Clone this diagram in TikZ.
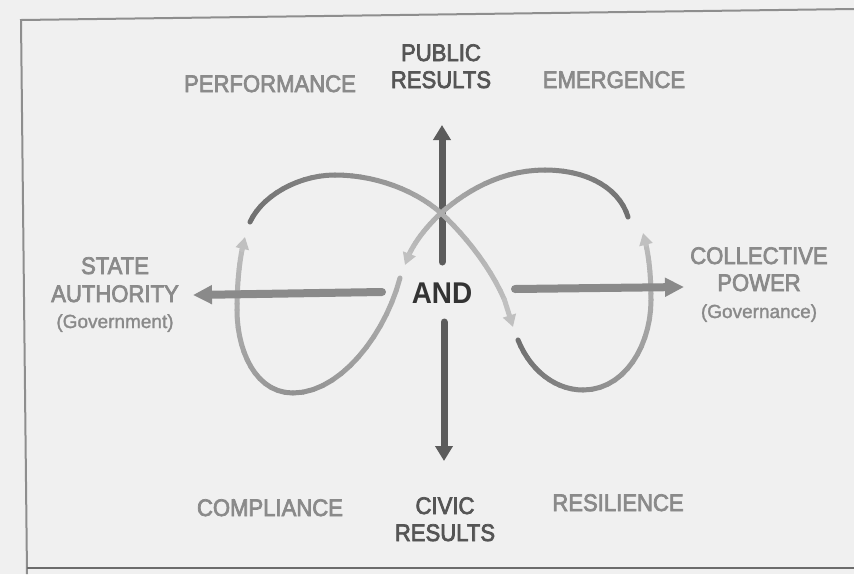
\documentclass[tikz,border=0pt]{standalone}
\usepackage{fontspec}
\usetikzlibrary{arrows.meta}
\setmainfont{Liberation Sans}
\newfontfamily\capsfont{Liberation Sans}[FakeStretch=0.92,FakeBold=3]
\newfontfamily\andfont{Liberation Sans}[FakeStretch=0.93]
\newfontfamily\subfont{Liberation Sans}[FakeBold=1.5]

\definecolor{paper}{HTML}{F0F0F0}
\definecolor{framegray}{HTML}{8E8E8E}
\definecolor{framedark}{HTML}{6C6C6C}
\definecolor{axisdark}{HTML}{5C5C5C}
\definecolor{axismid}{HTML}{8A8A8A}
\definecolor{loopdark}{HTML}{6E6E6E}
\definecolor{looplight}{HTML}{D2D2D2}
\definecolor{labelgray}{HTML}{8A8A8A}
\definecolor{keygray}{HTML}{555555}
\definecolor{andgray}{HTML}{333333}

\tikzset{
  loopstroke/.style={line width=5pt, line cap=round},
  axisv/.style={line width=7pt, draw=axisdark, line cap=round,
    -{Triangle[width=17pt,length=15pt]}},
  axish/.style={line width=8pt, draw=axismid, line cap=round,
    -{Triangle[width=18pt,length=19pt]}},
  sidelabel/.style={font=\capsfont\fontsize{24}{27}\selectfont, text=labelgray,
    align=center, anchor=base, inner sep=0pt},
  keylabel/.style={font=\capsfont\fontsize{24}{27}\selectfont, text=keygray,
    align=center, anchor=base, inner sep=0pt},
  sublabel/.style={font=\subfont\fontsize{19}{23}\selectfont, text=labelgray,
    anchor=base, inner sep=0pt},
}

% One cubic piece of a loop, drawn in short pieces whose grey runs
% from #5 to #6 (percent of loopdark mixed into looplight).
\newcommand\loopseg[6]{%
  \foreach \k in {0,...,14}{%
    \pgfmathsetmacro\tpos{\k/14}%
    \path #1 .. controls #2 and #3 .. #4 coordinate[pos=\tpos] (lp-\k);%
  }%
  \foreach \k in {1,...,14}{%
    \pgfmathtruncatemacro\kprev{\k-1}%
    \pgfmathsetmacro\lshade{#5+(#6-#5)*(\k-0.5)/14}%
    \draw[loopstroke, draw=loopdark!\lshade!looplight] (lp-\kprev) -- (lp-\k);%
  }%
}
% Same, ending in an arrow head.
\newcommand\loopsegarrow[6]{%
  \foreach \k in {0,...,14}{%
    \pgfmathsetmacro\tpos{\k/14}%
    \path #1 .. controls #2 and #3 .. #4 coordinate[pos=\tpos] (lp-\k);%
  }%
  \foreach \k in {1,...,11}{%
    \pgfmathtruncatemacro\kprev{\k-1}%
    \pgfmathsetmacro\lshade{#5+(#6-#5)*(\k-0.5)/14}%
    \draw[loopstroke, draw=loopdark!\lshade!looplight] (lp-\kprev) -- (lp-\k);%
  }%
  \draw[loopstroke, draw=loopdark!#6!looplight,
    -{Triangle[width=13pt,length=12pt]}] (lp-11) -- (lp-14);%
}

\begin{document}
\begin{tikzpicture}[x=1pt,y=-1pt]
\useasboundingbox (0,0) rectangle (854,574);
\fill[paper] (0,0) rectangle (854,574);

% frame
\draw[framegray, line width=2pt] (27,574) -- (21,20) -- (854,9);
\draw[framedark, line width=2.5pt] (27,568) -- (854,568);

% axis end points
\coordinate (up-s) at (442,262);
\coordinate (up-e) at (442,125);
\coordinate (dn-s) at (444,322);
\coordinate (dn-e) at (444,461);
\coordinate (lf-s) at (382,292);
\coordinate (lf-e) at (193,295);
\coordinate (rt-s) at (515,289);
\coordinate (rt-e) at (684,287);

% upward axis (under the loops)
\draw[axisv] (up-s) -- (up-e);

% left upper arc, through the crossing, down to the right
\loopseg{(250,222)}{(262,196)}{(298,175)}{(335,175)}{100}{75}
\loopseg{(335,175)}{(375,175)}{(415,190)}{(441,213)}{75}{38}
\loopsegarrow{(441,213)}{(470,240)}{(505,285)}{(513,327)}{38}{18}

% right upper arc, through the crossing, down to the left
\loopseg{(628,217)}{(620,190)}{(590,170)}{(545,170)}{100}{75}
\loopseg{(545,170)}{(500,170)}{(465,192)}{(441,213)}{75}{38}
\loopsegarrow{(441,213)}{(423,230)}{(410,248)}{(405,265)}{38}{18}

% right lower loop
\loopseg{(518,340)}{(530,370)}{(555,390)}{(583,390)}{100}{72}
\loopseg{(583,390)}{(625,390)}{(651,345)}{(651,300)}{72}{40}
\loopsegarrow{(651,300)}{(651,270)}{(648,250)}{(643,233)}{40}{18}

% left lower loop
\loopseg{(400,278)}{(385,335)}{(340,393)}{(293,393)}{35}{65}
\loopseg{(293,393)}{(255,393)}{(237,350)}{(237,310)}{65}{38}
\loopsegarrow{(237,310)}{(237,280)}{(240,255)}{(245,237)}{38}{18}

% remaining axes
\draw[axish] (lf-s) -- (lf-e);
\draw[axish] (rt-s) -- (rt-e);
\draw[axisv] (dn-s) -- (dn-e);

% centre
\node[font=\andfont\bfseries\fontsize{30}{34}\selectfont, text=andgray,
  anchor=base, inner sep=0pt] (and) at (442,303) {AND};

% labels (multi-line nodes sit on the baseline of their last line)
\node[keylabel] (public) at (441,88) {PUBLIC\\RESULTS};
\node[sidelabel] (performance) at (270,92) {PERFORMANCE};
\node[sidelabel] (emergence) at (614,88) {EMERGENCE};
\node[sidelabel] (state) at (115,302) {STATE\\[1pt]AUTHORITY};
\node[sublabel] (government) at (115,328) {(Government)};
\node[sidelabel] (collective) at (759,291) {COLLECTIVE\\POWER};
\node[sublabel] (governance) at (759,318) {(Governance)};
\node[sidelabel] (compliance) at (270,516) {COMPLIANCE};
\node[keylabel] (civic) at (445,541) {CIVIC\\RESULTS};
\node[sidelabel] (resilience) at (618,511) {RESILIENCE};
\end{tikzpicture}
\end{document}
